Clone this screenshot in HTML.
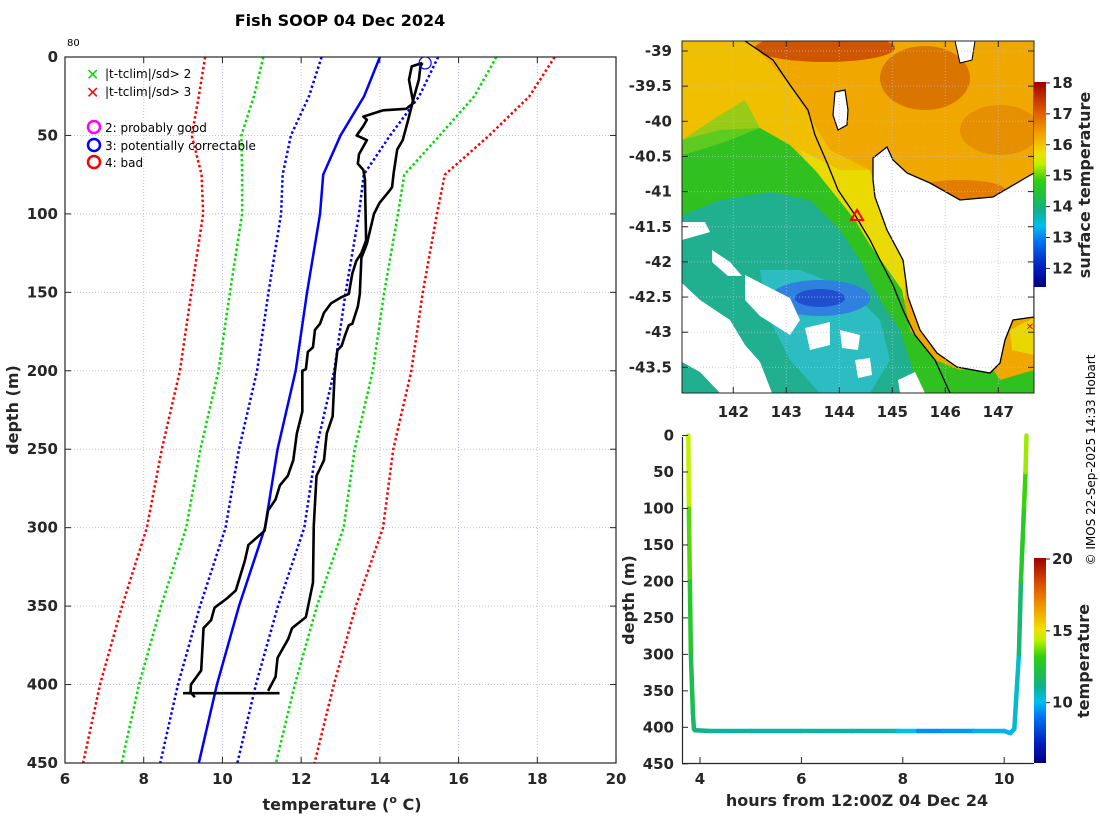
<!DOCTYPE html>
<html><head><meta charset="utf-8"><style>
html,body{margin:0;padding:0;background:#fff;}
svg{display:block;font-family:"DejaVu Sans","Liberation Sans",sans-serif;}
.tk{font-size:15px;font-weight:bold;fill:#262626;}
.ax{font-size:16px;font-weight:bold;fill:#262626;}
.lg{font-size:12px;fill:#000;}
</style></head><body>
<svg id="fig" width="1100" height="820" viewBox="0 0 1100 820" xmlns="http://www.w3.org/2000/svg">
<defs>
<clipPath id="mainClip"><rect x="65" y="57" width="551" height="706"/></clipPath>
<clipPath id="mapClip"><rect x="682" y="41" width="352" height="352"/></clipPath>
<linearGradient id="cbMap" x1="0" y1="1" x2="0" y2="0"></linearGradient>
<linearGradient id="cbTrack" x1="0" y1="1" x2="0" y2="0"></linearGradient>
</defs>

<text x="340" y="26" text-anchor="middle" style="font-size:16px;font-weight:bold">Fish SOOP 04 Dec 2024</text>
<text x="67" y="46" style="font-size:10px">80</text>

<g id="mainGrid"></g>
<g id="mainSeries" clip-path="url(#mainClip)"></g>
<rect x="65" y="57" width="551" height="706" fill="none" stroke="#262626" stroke-width="1.2"/>
<g id="mainTicks"></g>
<text class="ax" transform="translate(18,410) rotate(-90)" text-anchor="middle">depth (m)</text>
<text class="ax" x="342" y="810" text-anchor="middle">temperature (<tspan dy="-7" font-size="11">o</tspan><tspan dy="7"> C)</tspan></text>

<g>
  <text x="86" y="80" fill="#00e000" style="font-size:16px;font-weight:bold">✕</text>
  <text x="105" y="78" class="lg">|t-tclim|/sd&gt; 2</text>
  <text x="86" y="98" fill="#ff0000" style="font-size:16px;font-weight:bold">✕</text>
  <text x="105" y="96" class="lg">|t-tclim|/sd&gt; 3</text>
  <circle cx="94" cy="127" r="6" fill="none" stroke="#ff00ff" stroke-width="2.5"/>
  <text x="105" y="132" class="lg">2: probably good</text>
  <circle cx="94" cy="145" r="6" fill="none" stroke="#0000ff" stroke-width="2.5"/>
  <text x="105" y="150" class="lg">3: potentially correctable</text>
  <circle cx="94" cy="162" r="6" fill="none" stroke="#ff0000" stroke-width="2.5"/>
  <text x="105" y="167" class="lg">4: bad</text>
</g>

<!-- Map -->
<g clip-path="url(#mapClip)">
  <rect x="682" y="41" width="352" height="352" fill="#f0a800"/>
  <ellipse cx="825" cy="48" rx="70" ry="14" fill="#c84000" opacity="0.8"/>
  <ellipse cx="925" cy="78" rx="45" ry="32" fill="#d06000" opacity="0.7"/>
  <ellipse cx="1000" cy="130" rx="40" ry="25" fill="#e08000" opacity="0.6"/>
  <ellipse cx="960" cy="190" rx="45" ry="10" fill="#d86000" opacity="0.6"/>
  <polygon fill="#f0c000" points="682,41 750,41 790,85 830,150 870,170 880,200 898,240 905,270 900,300 880,300 860,260 830,220 790,170 740,140 682,140"/>
  <polygon fill="#e8e000" points="800,150 840,170 870,170 880,200 898,240 905,270 905,300 885,290 860,250 830,210" opacity="0.8"/>
  <polygon fill="#30c020" points="682,140 720,130 760,128 790,145 815,170 835,195 855,220 870,245 888,270 902,290 910,330 935,360 960,370 990,365 1000,380 1034,370 1034,393 682,393"/>
  <polygon fill="#70d020" points="682,140 720,115 745,100 760,128 730,140 700,150 682,155" opacity="0.7"/>
  <polygon fill="#20b090" points="682,215 720,200 770,192 810,200 840,230 860,260 880,300 900,330 920,393 682,393"/>
  <polygon fill="#30c0d0" points="760,270 800,270 850,290 880,320 890,360 870,393 820,393 790,360 770,320" opacity="0.8"/>
  <ellipse cx="820" cy="298" rx="50" ry="18" fill="#3080e0"/>
  <ellipse cx="820" cy="298" rx="25" ry="9" fill="#2050d0"/>
  <g fill="#ffffff">
    <polygon points="682,222 705,222 710,232 682,240"/>
    <polygon points="712,250 730,262 742,276 728,276 712,262"/>
    <polygon points="745,275 790,298 800,320 790,335 760,316 745,300"/>
    <polygon points="682,283 700,300 730,320 745,345 760,362 772,393 720,393 700,372 682,362"/>
    <polygon points="805,328 830,322 830,345 810,350"/>
    <polygon points="840,330 860,335 858,350 842,348"/>
    <polygon points="898,380 915,372 925,393 900,393"/>
    <polygon points="855,360 870,358 872,375 858,378"/>
  </g>
  <polygon fill="#e8d800" points="1010,330 1034,318 1034,355 1012,350"/>
  <polygon fill="#fff" stroke="#000" stroke-width="1.3" points="873,158 887,147 893,160 907,173 930,183 960,200 993,197 1027,177 1034,173 1034,317 1013,320 1005,340 1000,363 990,373 957,367 937,353 920,330 908,297 903,260 887,230 875,197 873,180"/>
  <polygon fill="#fff" stroke="#000" stroke-width="1.2" points="835,92 845,90 848,110 847,125 838,130 833,115"/>
  <polygon fill="#fff" stroke="#000" stroke-width="1" points="955,41 975,41 972,60 960,63"/>
  <g id="mapGrid"></g>
  <polyline fill="none" stroke="#000" stroke-width="1.3" points="745,41 773,60 790,85 808,110 815,135 828,165 838,190 855,215 870,240 880,260 893,285 903,310 915,335 935,360 950,393"/>
  <polygon points="857,210 863,220 851,220" fill="none" stroke="#ff0000" stroke-width="2"/>
  <text x="1030" y="330" fill="#ff0000" text-anchor="middle" style="font-size:10px;font-weight:bold">✕</text>
</g>
<rect x="682" y="41" width="352" height="352" fill="none" stroke="#262626" stroke-width="1"/>
<g id="mapTicks"></g>
<rect x="1034" y="82" width="12" height="205" fill="url(#cbMap)"/>
<g id="mapCbTicks"></g>
<text class="ax" transform="translate(1090,185) rotate(-90)" text-anchor="middle">surface temperature</text>

<!-- Track panel -->
<g id="trackSeries"></g>
<line x1="682.5" y1="437" x2="682.5" y2="763" stroke="#262626" stroke-width="1.2"/>
<line x1="682" y1="763.5" x2="1034" y2="763.5" stroke="#262626" stroke-width="1.2"/>
<g id="trackTicks"></g>
<text class="ax" transform="translate(634,600) rotate(-90)" text-anchor="middle">depth (m)</text>
<text class="ax" x="857" y="806" text-anchor="middle">hours from 12:00Z 04 Dec 24</text>
<rect x="1034" y="558" width="12" height="205" fill="url(#cbTrack)"/>
<g id="trackCbTicks"></g>
<text class="ax" transform="translate(1089,661) rotate(-90)" text-anchor="middle">temperature</text>

<text transform="translate(1095,460) rotate(-90)" text-anchor="middle" style="font-size:12px">© IMOS 22-Sep-2025 14:33 Hobart</text>
</svg>

<script>
// ---- Climatology data ----
const climDepths = [0,25,50,75,100,150,200,250,300,350,400,450];
const climMean = [14.0,13.6,13.0,12.56,12.48,12.15,11.86,11.4,11.08,10.42,9.86,9.4];
const climSd = [1.48,1.4,1.26,1.03,0.99,0.98,0.98,0.98,1.0,0.99,0.99,0.98];
// ---- Observed profile ----
const downT = [15.08,14.81,14.74,14.85,14.67,14.08,13.58,13.67,13.58,13.41,13.67,13.47,13.44,13.58,13.62,13.65,13.53,13.4,13.3,13.21,13.03,12.76,12.58,12.48,12.35,12.3,12.17,12.12,12.03,12.03,11.89,11.8,11.66,11.46,11.35,11.16,11.07,10.66,10.57,10.34,10.12,9.8,9.71,9.52,9.46,9.2,9.19,9.3];
const downD = [3.8,6,14.5,29.4,33,34,38,40,44,50,53,62,68,72,78,117,125,130,138,151,153,157,163,170,174,185,188,199,200,226,240,257,267,273,282,289,302,311,321,340,345,351,359,364,391,400,405,408];
const upT = [11.16,11.35,11.4,11.67,11.77,12.12,12.21,12.3,12.32,12.39,12.58,12.65,12.8,12.85,12.92,13.03,13.12,13.21,13.3,13.44,13.49,13.53,13.67,13.85,13.99,14.22,14.31,14.35,14.44,14.58,14.72,14.85,14.99,15.03,15.08];
const upD = [404,395,383,371,364,357,346,335,299,267,257,240,229,202,187,184,177,171,170,159,151,128,119,100,93,86,83,74,59,53,40,27,14.5,6,3.8];
const bottomT = [9.0,11.45];
const bottomD = [405.5,405.5];
const flagT = [15.15];
const flagD = [3.8];
const xTicks = [6,8,10,12,14,16,18,20];
const yTicks = [0,50,100,150,200,250,300,350,400,450];
// ---- Track data ----
const trackHours = [3.77,3.78,3.80,3.82,3.86,3.88,3.90,4.2,5.0,6.0,7.0,7.9,8.3,8.8,9.4,10.0,10.12,10.2,10.29,10.33,10.39,10.42,10.44];
const trackDepth = [0,100,200,300,380,402,404,405,405,405,405,405,405,405,405,405,408,402,300,200,100,50,0];
const trackTemp = [14.8,14.0,13.0,12.2,11.8,11.6,11.4,11.0,10.8,10.9,10.9,10.8,9.5,9.3,9.8,9.9,9.9,10.0,10.9,12.3,13.2,13.4,14.8];
const trackXTicks = [4,6,8,10];
const trackYTicks = [0,50,100,150,200,250,300,350,400,450];
// ---- Map axes ----
const mapLonTicks = [142,143,144,145,146,147];
const mapLatTicks = [-39,-39.5,-40,-40.5,-41,-41.5,-42,-42.5,-43,-43.5];
const mapCbTicks = [12,13,14,15,16,17,18];
const trackCbTicks = [10,15,20];

const NS='http://www.w3.org/2000/svg';
function mk(tag, attrs, parent){const e=document.createElementNS(NS,tag);for(const k in attrs)e.setAttribute(k,attrs[k]);parent.appendChild(e);return e;}

const xT = t => 65 + (t-6)*39.36;
const yD = d => 57 + d*1.5689;
const xH = h => 700 + (h-4)*50.7;
const yTD = d => 435.5 + d*0.7296;
const xLon = l => 733.3 + (l-142)*53;
const yLat = l => 51 + (-39 - l)*70.3;

const stops=[[0,'#000080'],[0.1,'#0020c0'],[0.22,'#0070f0'],[0.3,'#00c0f0'],[0.37,'#10b090'],[0.45,'#20c040'],[0.52,'#30d010'],[0.6,'#c0f000'],[0.65,'#f0e000'],[0.75,'#f0a000'],[0.85,'#e06000'],[1,'#a00000']];
function hex(c){return [1,3,5].map(i=>parseInt(c.substr(i,2),16));}
function cmap(t){t=Math.max(0,Math.min(1,t));for(let i=1;i<stops.length;i++){if(t<=stops[i][0]){const a=stops[i-1],b=stops[i];const f=(t-a[0])/(b[0]-a[0]);const ca=hex(a[1]),cb=hex(b[1]);return 'rgb('+ca.map((v,j)=>Math.round(v+(cb[j]-v)*f)).join(',')+')';}}return stops[stops.length-1][1];}
['cbMap','cbTrack'].forEach(id=>{const g=document.getElementById(id);stops.forEach(s=>mk('stop',{offset:s[0],'stop-color':s[1]},g));});

const mg=document.getElementById('mainGrid');
xTicks.slice(1,-1).forEach(t=>{const l=mk('line',{x1:xT(t),x2:xT(t),y1:57,y2:763,stroke:'#b8c0e0','stroke-width':1,'stroke-dasharray':'1,2'},mg);

});
yTicks.slice(1,-1).forEach(d=>{const l=mk('line',{x1:65,x2:616,y1:yD(d),y2:yD(d),stroke:'#c8c0d8','stroke-width':1,'stroke-dasharray':'1,2'},mg);

});

const ms=document.getElementById('mainSeries');
const bands=[[-3,'#ff0000'],[-2,'#00dd00'],[-1,'#0000ff'],[1,'#0000ff'],[2,'#00dd00'],[3,'#ff0000']];
bands.forEach(b=>{const pts=climDepths.map((d,i)=>xT(climMean[i]+b[0]*climSd[i])+','+yD(d)).join(' ');
const p=mk('polyline',{points:pts,fill:'none',stroke:b[1],'stroke-width':2.5,'stroke-dasharray':'2.5,2.5'},ms);

});
{const p=mk('polyline',{points:climDepths.map((d,i)=>xT(climMean[i])+','+yD(d)).join(' '),fill:'none',stroke:'#0000ff','stroke-width':2.5},ms);

}
[[downT,downD,'profile-descent-line'],[upT,upD,'profile-ascent-line'],[bottomT,bottomD,'profile-bottom-segment']].forEach(s=>{
const p=mk('polyline',{points:s[0].map((t,i)=>xT(t)+','+yD(s[1][i])).join(' '),fill:'none',stroke:'#000','stroke-width':2.6,'stroke-linejoin':'round'},ms);

});
flagT.forEach((t,i)=>{const c=mk('circle',{cx:xT(t),cy:yD(flagD[i]),r:6,fill:'none',stroke:'#0000ff','stroke-width':1.2},ms);

});

const mt=document.getElementById('mainTicks');
xTicks.forEach(t=>{const x=xT(t);
mk('line',{x1:x,x2:x,y1:763,y2:757,stroke:'#262626'},mt);mk('line',{x1:x,x2:x,y1:57,y2:63,stroke:'#262626'},mt);
const tx=mk('text',{x:x,y:784,'text-anchor':'middle',class:'tk'},mt);tx.textContent=t;

});
yTicks.forEach(d=>{const y=yD(d);
mk('line',{x1:65,x2:71,y1:y,y2:y,stroke:'#262626'},mt);mk('line',{x1:616,x2:610,y1:y,y2:y,stroke:'#262626'},mt);
const tx=mk('text',{x:58,y:y+5,'text-anchor':'end',class:'tk'},mt);tx.textContent=d;

});

const mgr=document.getElementById('mapGrid');const mtk=document.getElementById('mapTicks');
mapLonTicks.forEach(l=>{const x=xLon(l);
mk('line',{x1:x,x2:x,y1:41,y2:393,stroke:'#b8c0e0','stroke-width':1,'stroke-dasharray':'1,2',opacity:0.7},mgr);
mk('line',{x1:x,x2:x,y1:393,y2:387,stroke:'#262626'},mtk);mk('line',{x1:x,x2:x,y1:41,y2:47,stroke:'#262626'},mtk);
const tx=mk('text',{x:x,y:417,'text-anchor':'middle',class:'tk'},mtk);tx.textContent=l;

});
mapLatTicks.forEach(l=>{const y=yLat(l);
mk('line',{x1:682,x2:1034,y1:y,y2:y,stroke:'#b8c0e0','stroke-width':1,'stroke-dasharray':'1,2',opacity:0.7},mgr);
mk('line',{x1:682,x2:688,y1:y,y2:y,stroke:'#262626'},mtk);mk('line',{x1:1034,x2:1028,y1:y,y2:y,stroke:'#262626'},mtk);
const tx=mk('text',{x:672,y:y+5,'text-anchor':'end',class:'tk'},mtk);tx.textContent=l;

});
const mcb=document.getElementById('mapCbTicks');
mapCbTicks.forEach(v=>{const y=287-(v-11.4)/(18.03-11.4)*205;
mk('line',{x1:1046,x2:1050,y1:y,y2:y,stroke:'#262626'},mcb);
const tx=mk('text',{x:1052,y:y+5,class:'tk'},mcb);tx.textContent=v;

});

const ts=document.getElementById('trackSeries');
for(let i=0;i<trackHours.length-1;i++){
 const tm=(trackTemp[i]+trackTemp[i+1])/2;
 const l=mk('line',{x1:xH(trackHours[i]),y1:yTD(trackDepth[i]),x2:xH(trackHours[i+1]),y2:yTD(trackDepth[i+1]),stroke:cmap((tm-5.8)/14.3),'stroke-width':4.5,'stroke-linecap':'round'},ts);
 
 
}
const tt=document.getElementById('trackTicks');
trackXTicks.forEach(h=>{const x=xH(h);
mk('line',{x1:x,x2:x,y1:763,y2:757,stroke:'#262626'},tt);
const tx=mk('text',{x:x,y:784,'text-anchor':'middle',class:'tk'},tt);tx.textContent=h;

});
trackYTicks.forEach(d=>{const y=yTD(d);
mk('line',{x1:682,x2:688,y1:y,y2:y,stroke:'#262626'},tt);
const tx=mk('text',{x:674,y:y+5,'text-anchor':'end',class:'tk'},tt);tx.textContent=d;

});
const tcb=document.getElementById('trackCbTicks');
trackCbTicks.forEach(v=>{const y=763-(v-5.8)/(20.07-5.8)*205;
mk('line',{x1:1046,x2:1050,y1:y,y2:y,stroke:'#262626'},tcb);
const tx=mk('text',{x:1052,y:y+5,class:'tk'},tcb);tx.textContent=v;

});
</script>
</body></html>
